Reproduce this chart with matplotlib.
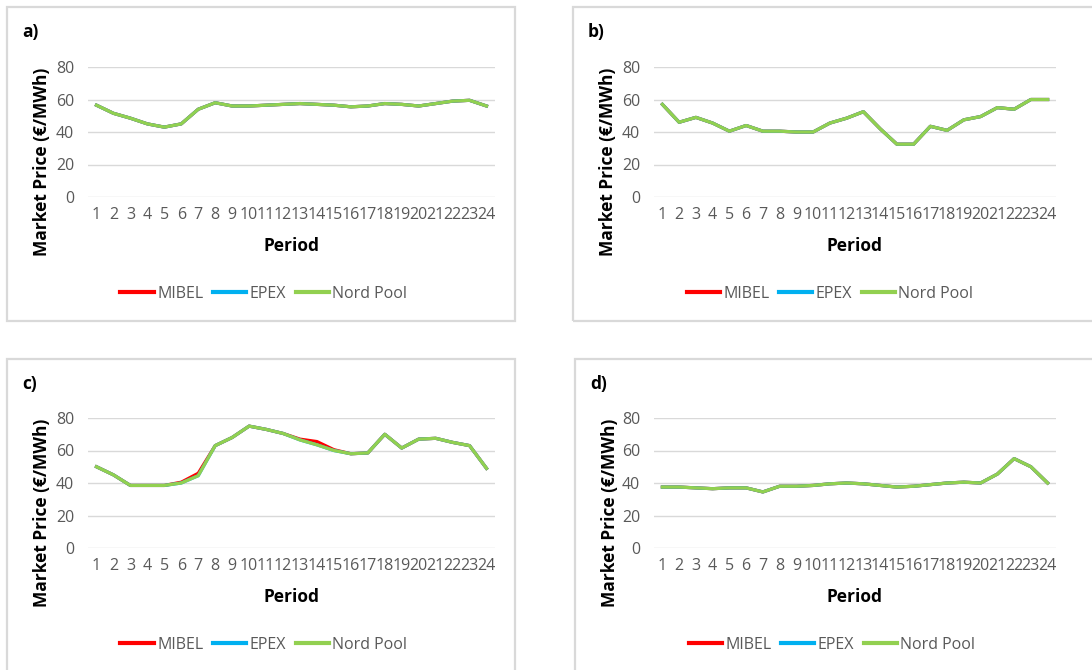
import numpy as np
import matplotlib.pyplot as plt
from matplotlib.patches import Rectangle

W, H = 1092, 670

periods = list(range(1, 25))
tick_labels = [str(p) for p in periods]

# hourly market prices (EUR/MWh), one set per day a) - d)
mibel_a = [56.5, 51.5, 48.5, 45, 43, 45, 54, 58, 56, 56, 56.5, 57,
           57.5, 57, 56.5, 55.5, 56, 57.5, 57, 56, 57.5, 59, 59.5, 56]
epex_a = [56.5, 51.5, 48.5, 45, 43, 45, 54, 58, 56, 56, 56.5, 57,
          57.5, 57, 56.5, 55.5, 56, 57.5, 57, 56, 57.5, 59, 59.5, 56]
nord_pool_a = [56.5, 51.5, 48.5, 45, 43, 45, 54, 58, 56, 56, 56.5, 57,
               57.5, 57, 56.5, 55.5, 56, 57.5, 57, 56, 57.5, 59, 59.5, 56]

mibel_b = [57, 46, 49, 45.5, 40.5, 44, 40.5, 40.5, 40, 40, 45.5, 48.5,
           52.5, 42, 32.5, 32.5, 43.5, 41, 47.5, 49.5, 55, 54, 60, 60]
epex_b = [57, 46, 49, 45.5, 40.5, 44, 40.5, 40.5, 40, 40, 45.5, 48.5,
          52.5, 42, 32.5, 32.5, 43.5, 41, 47.5, 49.5, 55, 54, 60, 60]
nord_pool_b = [57, 46, 49, 45.5, 40.5, 44, 40.5, 40.5, 40, 40, 45.5, 48.5,
               52.5, 42, 32.5, 32.5, 43.5, 41, 47.5, 49.5, 55, 54, 60, 60]

mibel_c = [50, 45, 38.5, 38.5, 38.5, 40.5, 46, 63, 68, 75, 73, 70.5,
           67, 65.5, 60.5, 58, 58.5, 70, 61.5, 67, 67.5, 65, 63, 49]
epex_c = [50, 45, 38.5, 38.5, 38.5, 40, 44.5, 63, 68, 75, 73, 70.5,
          66.5, 63.5, 60, 58, 58.5, 70, 61.5, 67, 67.5, 65, 63, 49]
nord_pool_c = [50, 45, 38.5, 38.5, 38.5, 40, 44.5, 63, 68, 75, 73, 70.5,
               66.5, 63.5, 60, 58, 58.5, 70, 61.5, 67, 67.5, 65, 63, 49]

mibel_d = [37.5, 37.5, 37, 36.5, 37, 37, 34.5, 38, 38, 38.5, 39.5, 40,
           39.5, 38.5, 37.5, 38, 39, 40, 40.5, 40, 45.5, 55, 50, 40]
epex_d = [37.5, 37.5, 37, 36.5, 37, 37, 34.5, 38, 38, 38.5, 39.5, 40,
          39.5, 38.5, 37.5, 38, 39, 40, 40.5, 40, 45.5, 55, 50, 40]
nord_pool_d = [37.5, 37.5, 37, 36.5, 37, 37, 34.5, 38, 38, 38.5, 39.5, 40,
               39.5, 38.5, 37.5, 38, 39, 40, 40.5, 40, 45.5, 55, 50, 40]

y_ticks = [0, 20, 40, 60, 80]

RED = "#FF0000"
BLUE = "#00B0F0"
GREEN = "#92D050"
GRID = "#D9D9D9"
TEXT = "#595959"

plt.rcParams['font.family'] = ['Open Sans', 'DejaVu Sans']


def px_rect(x0, y0, x1, y1):
    # pixel box (top-left origin) -> figure fraction rect
    return [x0 / W, 1 - y1 / H, (x1 - x0) / W, (y1 - y0) / H]


def draw_panel(fig, letter, box, plot, series):
    bx0, by0, bx1, by1 = box
    fig.add_artist(Rectangle((bx0 / W, 1 - by1 / H), (bx1 - bx0) / W, (by1 - by0) / H,
                             transform=fig.transFigure, fill=False,
                             edgecolor=GRID, linewidth=1.6))

    ax = fig.add_axes(px_rect(*plot))
    mibel, epex, nord = series
    ax.plot(periods, mibel, color=RED, lw=2.3, label="MIBEL", solid_joinstyle="round")
    ax.plot(periods, epex, color=BLUE, lw=2.3, label="EPEX", solid_joinstyle="round")
    ax.plot(periods, nord, color=GREEN, lw=2.3, label="Nord Pool", solid_joinstyle="round")

    ax.set_xlim(0.5, 24.5)
    ax.set_ylim(0, 80)
    ax.set_yticks(y_ticks)
    ax.set_xticks(periods)
    ax.set_xticklabels(tick_labels)
    ax.yaxis.grid(True, color=GRID, lw=1)
    ax.set_axisbelow(True)
    for s in ax.spines.values():
        s.set_visible(False)
    ax.tick_params(axis="both", length=0, labelsize=11.5, labelcolor=TEXT)
    ax.tick_params(axis="y", pad=10)
    ax.tick_params(axis="x", pad=7)

    px0, py0, px1, py1 = plot
    fig.text((bx0 + 15) / W, 1 - (by0 + 25) / H, letter, fontsize=12.5,
             fontweight="bold", va="center", ha="left")
    fig.text((bx0 + 35) / W, 1 - ((py0 + py1) / 2 + 30) / H, "Market Price (€/MWh)",
             rotation=90, fontsize=12.5, fontweight="bold", va="center", ha="center")
    fig.text((px0 + px1) / 2 / W, 1 - (py1 + 49) / H, "Period", fontsize=12.5,
             fontweight="bold", va="center", ha="center")

    leg = ax.legend(loc="center", bbox_to_anchor=((bx0 + 257) / W, 1 - (py1 + 97) / H),
                    bbox_transform=fig.transFigure, ncol=3, frameon=False, fontsize=11.5,
                    handlelength=2.1, handletextpad=0.2, columnspacing=0.6,
                    labelcolor=TEXT)
    for line in leg.get_lines():
        line.set_linewidth(3)
    return ax


def main():
    fig = plt.figure(figsize=(W / 100, H / 100), dpi=100)

    draw_panel(fig, "a)", (7, 7, 515, 321), (88, 67, 495, 197),
               (mibel_a, epex_a, nord_pool_a))
    draw_panel(fig, "b)", (573, 7, 1100, 321), (654, 67, 1056, 197),
               (mibel_b, epex_b, nord_pool_b))
    draw_panel(fig, "c)", (7, 359, 515, 690), (88, 418, 495, 548),
               (mibel_c, epex_c, nord_pool_c))
    draw_panel(fig, "d)", (575, 359, 1100, 690), (654, 418, 1056, 548),
               (mibel_d, epex_d, nord_pool_d))

    fig.savefig("out.png", dpi=100)


if __name__ == "__main__":
    main()
